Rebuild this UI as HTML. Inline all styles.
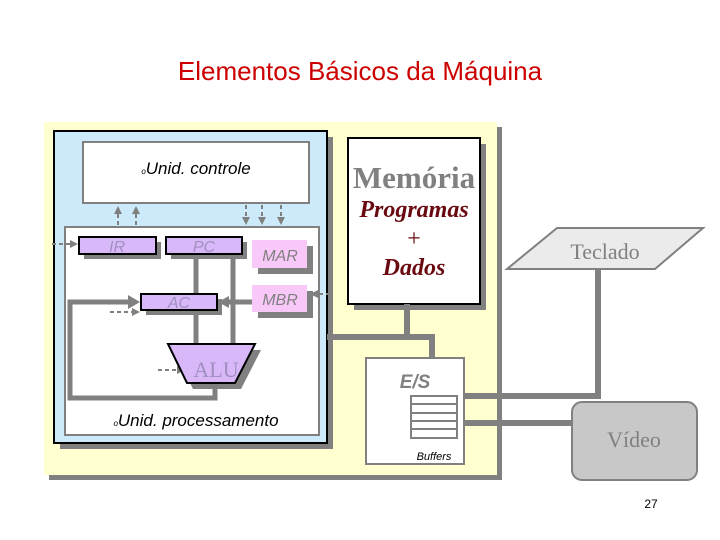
<!DOCTYPE html>
<html><head><meta charset="utf-8"><style>
body{margin:0;background:#fff;}
svg{display:block;}
</style></head><body>
<svg width="720" height="540" viewBox="0 0 720 540" xmlns="http://www.w3.org/2000/svg">
<defs>
<marker id="ahb" markerWidth="4" markerHeight="4" refX="3" refY="2" orient="auto"><path d="M0,0 L4,2 L0,4 z" fill="#808080"/></marker>
</defs>
<text x="360" y="80" text-anchor="middle" font-family="Liberation Sans, sans-serif" font-size="26" fill="#cc0000">Elementos Básicos da Máquina</text>

<rect x="49" y="127" width="453" height="353" fill="#808080"/>
<rect x="44" y="122" width="453" height="353" fill="#ffffd0"/>

<rect x="60" y="137" width="273" height="312" fill="#808080"/>
<rect x="54" y="131" width="273" height="312" fill="#cdeafa" stroke="#000" stroke-width="2"/>
<rect x="83" y="142" width="226" height="61" fill="#fff" stroke="#808080" stroke-width="2"/>
<text x="196" y="174" text-anchor="middle" font-family="Liberation Sans, sans-serif" font-size="17" font-style="italic" fill="#000"><tspan font-size="8">o</tspan>Unid. controle</text>
<rect x="65" y="227" width="254" height="208" fill="#fff" stroke="#808080" stroke-width="2"/>

<g stroke="#808080" stroke-width="2" stroke-dasharray="4,3" fill="none">
<line x1="118" y1="225" x2="118" y2="208" marker-end="url(#ahb)"/>
<line x1="136" y1="225" x2="136" y2="208" marker-end="url(#ahb)"/>
<line x1="246" y1="205" x2="246" y2="223" marker-end="url(#ahb)"/>
<line x1="262" y1="205" x2="262" y2="223" marker-end="url(#ahb)"/>
<line x1="281" y1="205" x2="281" y2="223" marker-end="url(#ahb)"/>
<line x1="52" y1="244" x2="76" y2="244" marker-end="url(#ahb)"/>
<line x1="330" y1="294" x2="312" y2="294" marker-end="url(#ahb)"/>
<line x1="110" y1="312" x2="138" y2="312" marker-end="url(#ahb)"/>
<line x1="158" y1="370" x2="183" y2="370" marker-end="url(#ahb)"/>
</g>

<g stroke="#808080" stroke-width="5" fill="none">
<line x1="196" y1="254" x2="196" y2="346"/>
<line x1="233" y1="254" x2="233" y2="346"/>
<polyline points="215,383 215,398 70,398 70,302 130,302"/>
<line x1="252" y1="302" x2="225" y2="302"/>
</g>
<path d="M128,295 L140,302 L128,309 z" fill="#808080"/>
<path d="M229,296 L218,302 L229,308 z" fill="#808080"/>

<rect x="84" y="242" width="77" height="17" fill="#808080"/>
<rect x="79" y="237" width="77" height="17" fill="#d8b8f8" stroke="#000" stroke-width="2"/>
<text x="117" y="252" text-anchor="middle" font-family="Liberation Sans, sans-serif" font-size="16" font-style="italic" fill="#a090c0">IR</text>
<rect x="171" y="242" width="76" height="17" fill="#808080"/>
<rect x="166" y="237" width="76" height="17" fill="#d8b8f8" stroke="#000" stroke-width="2"/>
<text x="204" y="252" text-anchor="middle" font-family="Liberation Sans, sans-serif" font-size="16" font-style="italic" fill="#a090c0">PC</text>
<rect x="258" y="246" width="55" height="28" fill="#808080"/>
<rect x="252" y="240" width="55" height="28" fill="#f8c8f8"/>
<text x="280" y="261" text-anchor="middle" font-family="Liberation Sans, sans-serif" font-size="16" font-style="italic" fill="#808080">MAR</text>
<rect x="258" y="291" width="55" height="27" fill="#808080"/>
<rect x="252" y="285" width="55" height="27" fill="#f8c8f8"/>
<text x="280" y="305" text-anchor="middle" font-family="Liberation Sans, sans-serif" font-size="16" font-style="italic" fill="#808080">MBR</text>
<rect x="146" y="299" width="76" height="16" fill="#808080"/>
<rect x="141" y="294" width="76" height="16" fill="#d8b8f8" stroke="#000" stroke-width="2"/>
<text x="179" y="308" text-anchor="middle" font-family="Liberation Sans, sans-serif" font-size="16" font-style="italic" fill="#a090c0">AC</text>

<path d="M174,350 L261,350 L241,389 L193,389 z" fill="#808080"/>
<path d="M168,344 L255,344 L235,383 L187,383 z" fill="#d8b8f8" stroke="#000" stroke-width="2"/>
<text x="216" y="377" text-anchor="middle" font-family="Liberation Serif, serif" font-size="22" fill="#a090c0">ALU</text>
<text x="196" y="426" text-anchor="middle" font-family="Liberation Sans, sans-serif" font-size="17" font-style="italic" fill="#000"><tspan font-size="8">o</tspan>Unid. processamento</text>

<rect x="354" y="144" width="132" height="166" fill="#808080"/>
<rect x="348" y="138" width="132" height="166" fill="#fff" stroke="#000" stroke-width="2"/>
<text x="414" y="188" text-anchor="middle" font-family="Liberation Serif, serif" font-size="31" font-weight="bold" fill="#808080">Memória</text>
<text x="414" y="217" text-anchor="middle" font-family="Liberation Serif, serif" font-size="24" font-weight="bold" font-style="italic" fill="#6a0a10">Programas</text>
<text x="414" y="246" text-anchor="middle" font-family="Liberation Serif, serif" font-size="24" fill="#6a0a10">+</text>
<text x="414" y="275" text-anchor="middle" font-family="Liberation Serif, serif" font-size="24" font-weight="bold" font-style="italic" fill="#6a0a10">Dados</text>

<g stroke="#808080" stroke-width="6" fill="none">
<line x1="407" y1="304" x2="407" y2="337"/>
<polyline points="327,337 432,337 432,358"/>
<polyline points="464,396 598,396 598,270"/>
<line x1="464" y1="423" x2="572" y2="423"/>
</g>

<rect x="366" y="358" width="98" height="106" fill="#fff" stroke="#808080" stroke-width="2"/>
<text x="415" y="388" text-anchor="middle" font-family="Liberation Sans, sans-serif" font-size="19" font-weight="bold" font-style="italic" fill="#808080">E/S</text>
<g fill="#fff" stroke="#808080" stroke-width="2">
<rect x="411" y="396" width="46" height="8"/>
<rect x="411" y="404" width="46" height="9"/>
<rect x="411" y="413" width="46" height="8"/>
<rect x="411" y="421" width="46" height="8"/>
<rect x="411" y="429" width="46" height="9"/>
</g>
<text x="434" y="460" text-anchor="middle" font-family="Liberation Sans, sans-serif" font-size="11" font-style="italic" fill="#000">Buffers</text>

<path d="M507,269 L557,228 L703,228 L655,269 z" fill="#ebebeb" stroke="#808080" stroke-width="2"/>
<text x="605" y="259" text-anchor="middle" font-family="Liberation Serif, serif" font-size="22" fill="#808080">Teclado</text>

<rect x="572" y="402" width="125" height="78" rx="10" fill="#c8c8c8" stroke="#808080" stroke-width="2"/>
<text x="634" y="447" text-anchor="middle" font-family="Liberation Serif, serif" font-size="22" fill="#808080">Vídeo</text>

<text x="651" y="508" text-anchor="middle" font-family="Liberation Sans, sans-serif" font-size="12" fill="#000">27</text>
</svg>
</body></html>
